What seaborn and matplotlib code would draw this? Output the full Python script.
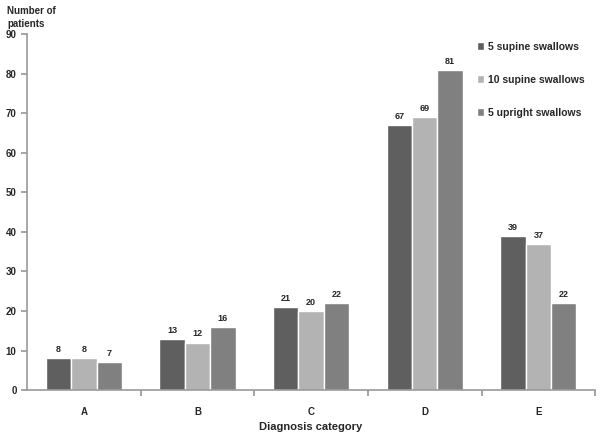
import matplotlib
matplotlib.use("Agg")
import matplotlib.pyplot as plt
import seaborn as sns
import pandas as pd

categories = ["A", "B", "C", "D", "E"]
series_names = ["5 supine swallows", "10 supine swallows", "5 upright swallows"]
supine5 = [8, 13, 21, 67, 39]
supine10 = [8, 12, 20, 69, 37]
upright5 = [7, 16, 22, 81, 22]
colors = ["#5f5f5f", "#b3b3b3", "#808080"]

rows = []
for name, vals in zip(series_names, [supine5, supine10, upright5]):
    for c, v in zip(categories, vals):
        rows.append({"Diagnosis category": c, "series": name, "value": v})
df = pd.DataFrame(rows)

sns.set_theme(style="white")
plt.rcParams["font.family"] = ["Liberation Sans", "DejaVu Sans"]
plt.rcParams["font.weight"] = "bold"

fig = plt.figure(figsize=(6, 4.32), dpi=100)
ax = fig.add_axes([0.045, 0.097, 0.947, 0.824])
sns.barplot(data=df, x="Diagnosis category", y="value", hue="series",
            palette=colors, width=0.67, saturation=1, ax=ax, errorbar=None)

for cont in ax.containers:
    ax.bar_label(cont, fmt="%d", padding=3, fontsize=6.5, fontweight="bold")

ax.set_ylim(0, 90)
ax.set_yticks(range(0, 91, 10))
ax.set_xlim(-0.5, 4.5)
ax.set_xticks([i - 0.5 for i in range(1, 6)], minor=False)
ax.set_xticklabels([])
ax.set_xticks(range(5), minor=True)
ax.set_xticklabels(categories, minor=True)
ax.tick_params(axis="x", which="major", length=4, color="#999999", direction="out", bottom=True)
ax.tick_params(axis="x", which="minor", length=0, pad=12, labelsize=7)
ax.tick_params(axis="y", length=4, color="#999999", direction="out", left=True, labelsize=7)
for lab in ax.get_xticklabels(minor=True) + ax.get_yticklabels():
    lab.set_fontweight("bold")

for s in ["top", "right"]:
    ax.spines[s].set_visible(False)
for s in ["left", "bottom"]:
    ax.spines[s].set_color("#999999")
    ax.spines[s].set_linewidth(1.2)

ax.set_ylabel("")
ax.set_xlabel("Diagnosis category", fontsize=8, fontweight="bold", labelpad=4)
fig.text(0.012, 0.985, "Number of\npatients", fontsize=7, fontweight="bold", va="top", ha="left", linespacing=1.3)

leg = ax.legend(loc="upper left", bbox_to_anchor=(0.775, 1.005), frameon=False,
                fontsize=7.5, handlelength=0.7, handleheight=0.7, labelspacing=2.2,
                handletextpad=0.4)
for t in leg.get_texts():
    t.set_fontweight("bold")

fig.savefig("out.png", dpi=100)
